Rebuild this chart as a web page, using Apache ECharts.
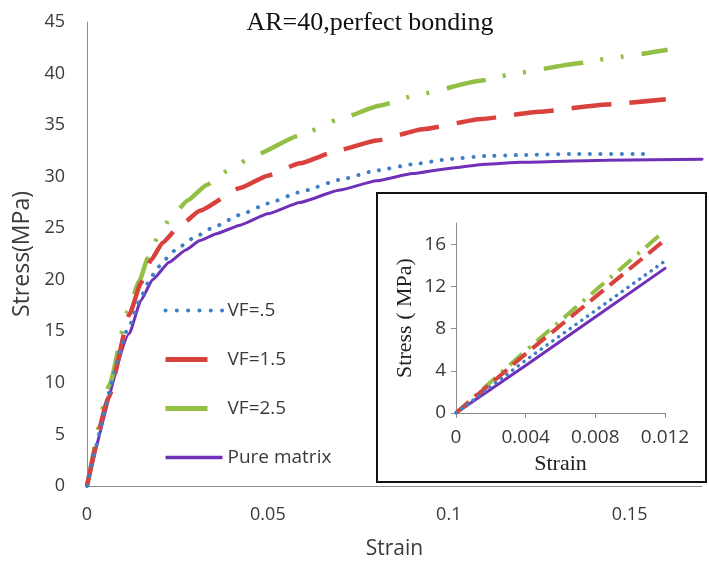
<!DOCTYPE html>
<html>
<head>
<meta charset="utf-8">
<script src="https://cdn.jsdelivr.net/npm/echarts@6/dist/echarts.min.js"></script>
<style>
  html, body { margin: 0; padding: 0; background: #fff; }
  #chart { width: 709px; height: 561px; }
</style>
</head>
<body>
<div id="chart"></div>
<script>
// Stress–strain curves, AR=40, perfect bonding
const seriesNames = ['VF=.5', 'VF=1.5', 'VF=2.5', 'Pure matrix'];

// main plot: [strain, stress (MPa)]
const vf05 = [[0,0],[0.0117,15.5],[0.015,18.4],[0.0172,19.9],[0.0195,21.2],[0.0241,22.8],[0.0292,24.0],[0.035,25.1],[0.0423,26.3],[0.05,27.4],[0.0588,28.5],[0.0699,29.7],[0.08,30.6],[0.09,31.2],[0.1,31.7],[0.11,32.0],[0.12,32.1],[0.135,32.2],[0.1555,32.2]];
const vf15 = [[0,0],[0.006,8.6],[0.0117,16.6],[0.0149,19.7],[0.0177,21.9],[0.0209,23.6],[0.025,25.0],[0.0312,26.7],[0.0423,28.9],[0.05,30.1],[0.0588,31.3],[0.07,32.6],[0.08,33.5],[0.0928,34.6],[0.109,35.6],[0.125,36.3],[0.1436,37.0],[0.16,37.5]];
const vf25 = [[0,0],[0.0062,9.8],[0.0112,16.9],[0.0145,19.9],[0.0168,22.1],[0.0195,24.1],[0.0227,25.8],[0.0278,27.7],[0.0331,29.2],[0.0403,30.9],[0.0459,32.0],[0.0588,34.0],[0.0699,35.6],[0.081,36.9],[0.092,38.0],[0.1086,39.3],[0.1196,40.1],[0.136,41.0],[0.1464,41.6],[0.1605,42.3]];
const pureMatrix = [[0,0],[0.0117,14.8],[0.0149,18.0],[0.0181,20.0],[0.0227,21.7],[0.0273,22.9],[0.0312,23.8],[0.036,24.5],[0.0423,25.3],[0.05,26.4],[0.0588,27.5],[0.0699,28.7],[0.08,29.6],[0.09,30.3],[0.1,30.8],[0.11,31.2],[0.12,31.4],[0.1436,31.6],[0.17,31.7]];

// inset: elastic region
const insetVf05 = [[0,0],[0.004,5.0],[0.008,9.7],[0.012,14.4]];
const insetVf15 = [[0,0],[0.004,5.6],[0.008,11.0],[0.012,16.4]];
const insetVf25 = [[0,0],[0.004,5.9],[0.008,11.6],[0.0118,17.0]];
const insetPure = [[0,0],[0.004,4.5],[0.008,9.1],[0.012,13.7]];

const mainXTicks = [0, 0.05, 0.1, 0.15];
const mainYTicks = [0, 5, 10, 15, 20, 25, 30, 35, 40, 45];
const insetXTicks = [0, 0.004, 0.008, 0.012];
const insetYTicks = [0, 4, 8, 12, 16];

const colors = ['#3f7fc6', '#d9413c', '#93bf45', '#7030b8'];
const sans = 'Open Sans';
const serif = 'Liberation Serif';
const labelColor = '#3a3a3a';
const axisGray = '#8c8c8c';

const mainStyles = [
  { width: 4, type: [0.1, 10.5], cap: 'round' },
  { width: 4.5, type: [40, 18], cap: 'butt' },
  { width: 4.5, type: [40, 17, 3, 18, 3, 18], cap: 'butt' },
  { width: 3, type: 'solid', cap: 'round' }
];
const insetStyles = [
  { width: 3.5, type: [0.1, 7], cap: 'round' },
  { width: 4, type: [17, 8], cap: 'butt' },
  { width: 4, type: [17, 8, 3, 8], cap: 'butt' },
  { width: 3, type: 'solid', cap: 'round' }
];
const legendStyles = [
  { width: 4, type: [0.1, 11.2], cap: 'round' },
  { width: 5, type: [42, 20], cap: 'butt' },
  { width: 5, type: [42, 20], cap: 'butt' },
  { width: 3.5, type: 'solid', cap: 'butt' }
];

const mainData = [vf05, vf15, vf25, pureMatrix];
const insetData = [insetVf05, insetVf15, insetVf25, insetPure];

const series = [];
mainData.forEach((d, i) => {
  series.push({
    name: seriesNames[i], type: 'line', xAxisIndex: 0, yAxisIndex: 0,
    data: d, symbol: 'none', smooth: 0.15, smoothMonotone: 'x',
    z: 10 - i,
    lineStyle: { color: colors[i], width: mainStyles[i].width, type: mainStyles[i].type, cap: mainStyles[i].cap },
    itemStyle: { color: colors[i] }
  });
});
insetData.forEach((d, i) => {
  series.push({
    name: 'inset ' + seriesNames[i], type: 'line', xAxisIndex: 1, yAxisIndex: 1,
    data: d, symbol: 'none', z: 10 - i,
    lineStyle: { color: colors[i], width: insetStyles[i].width, type: insetStyles[i].type, cap: insetStyles[i].cap },
    itemStyle: { color: colors[i] }
  });
});

const legendData = seriesNames.map((n, i) => ({
  name: n,
  itemStyle: { opacity: 0 },
  lineStyle: { color: colors[i], width: legendStyles[i].width, type: legendStyles[i].type, cap: legendStyles[i].cap, opacity: 1 }
}));

const chart = echarts.init(document.getElementById('chart'), null, { renderer: 'canvas' });
chart.setOption({
  backgroundColor: '#ffffff',
  animation: false,
  title: {
    text: 'AR=40,perfect bonding',
    left: 365, top: 5, textAlign: 'center',
    textStyle: { fontFamily: serif, fontSize: 26, fontWeight: 'normal', color: '#111' }
  },
  legend: {
    data: legendData,
    orient: 'vertical',
    left: 163, top: 301, padding: 0,
    itemWidth: 57, itemHeight: 14, itemGap: 30,
    textStyle: { fontFamily: sans, fontSize: 19, color: labelColor, padding: [0, 0, 0, 0] }
  },
  grid: [
    { left: 87, top: 22, width: 615, height: 464, containLabel: false, outerBoundsMode: 'none' },
    { left: 456, top: 223, width: 209, height: 190, containLabel: false, outerBoundsMode: 'none' }
  ],
  xAxis: [
    {
      type: 'value', gridIndex: 0, min: 0, max: 0.17,
      name: 'Strain', nameLocation: 'middle', nameGap: 53,
      nameTextStyle: { fontFamily: sans, fontSize: 21, color: labelColor },
      axisLine: { show: true, lineStyle: { color: axisGray, width: 1 } },
      axisTick: { show: false },
      splitLine: { show: false },
      axisLabel: { customValues: mainXTicks, margin: 20, fontFamily: sans, fontSize: 18, color: labelColor }
    },
    {
      type: 'value', gridIndex: 1, min: 0, max: 0.012, interval: 0.004,
      name: 'Strain', nameLocation: 'middle', nameGap: 40,
      nameTextStyle: { fontFamily: serif, fontSize: 22, color: '#222' },
      axisLine: { show: true, lineStyle: { color: axisGray, width: 1 } },
      axisTick: { show: true, customValues: insetXTicks, inside: false, length: 5, lineStyle: { color: axisGray } },
      splitLine: { show: false },
      axisLabel: { customValues: insetXTicks, margin: 15, fontFamily: sans, fontSize: 19, color: labelColor }
    }
  ],
  yAxis: [
    {
      type: 'value', gridIndex: 0, min: 0, max: 45, interval: 5,
      name: 'Stress(MPa)', nameLocation: 'middle', nameGap: 52, nameRotate: 90,
      nameTextStyle: { fontFamily: sans, fontSize: 23, color: labelColor },
      axisLine: { show: true, lineStyle: { color: axisGray, width: 1 } },
      axisTick: { show: false },
      splitLine: { show: false },
      axisLabel: { customValues: mainYTicks, margin: 22, fontFamily: sans, fontSize: 18, color: labelColor }
    },
    {
      type: 'value', gridIndex: 1, min: 0, max: 18,
      name: 'Stress ( MPa)', nameLocation: 'middle', nameGap: 40, nameRotate: 90,
      nameTextStyle: { fontFamily: serif, fontSize: 22, color: '#222' },
      axisLine: { show: true, lineStyle: { color: axisGray, width: 1 } },
      axisTick: { show: true, customValues: insetYTicks, inside: false, length: 5, lineStyle: { color: axisGray } },
      splitLine: { show: false },
      axisLabel: { customValues: insetYTicks, margin: 10, fontFamily: sans, fontSize: 19, color: labelColor }
    }
  ],
  graphic: [
    {
      type: 'rect', z: -1,
      shape: { x: 377, y: 193, width: 329, height: 289 },
      style: { fill: 'none', stroke: '#111', lineWidth: 2 }
    }
  ],
  series: series
});
</script>
</body>
</html>
